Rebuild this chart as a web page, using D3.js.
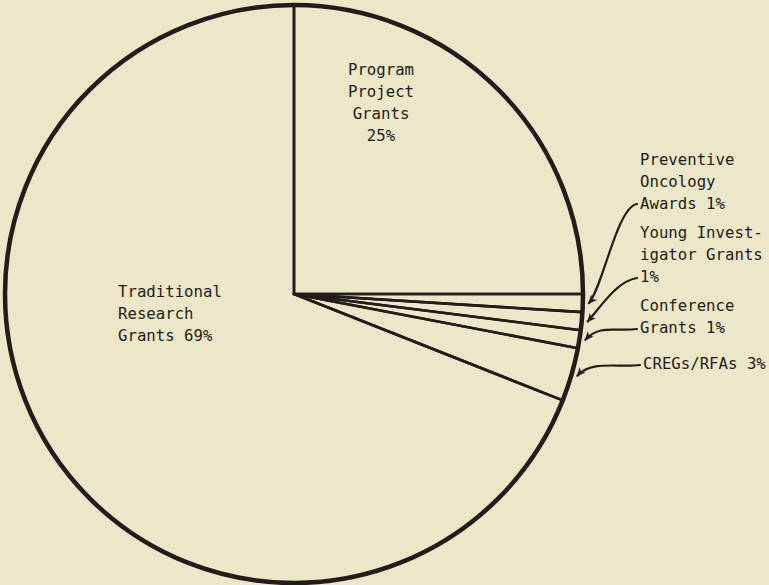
<!DOCTYPE html>
<html>
<head>
<meta charset="utf-8">
<script src="https://cdn.jsdelivr.net/npm/d3@7"></script>
<style>
  html, body { margin: 0; padding: 0; background: #ebe7c8; }
  svg { display: block; }
  text { font-family: "DejaVu Sans Mono", monospace; font-size: 15.7px; fill: #1f1b17; }
</style>
</head>
<body>
<div id="chart"></div>
<script>
// slices, clockwise from 12 o'clock
var categories = ["Program Project Grants", "Preventive Oncology Awards", "Young Investigator Grants",
                  "Conference Grants", "CREGs/RFAs", "Traditional Research Grants"];
var values = [25, 1, 1, 1, 3, 69];
var labelLines = [
  ["Program", "Project", "Grants", "25%"],
  ["Preventive", "Oncology", "Awards 1%"],
  ["Young Invest-", "igator Grants", "1%"],
  ["Conference", "Grants 1%"],
  ["CREGs/RFAs 3%"],
  ["Traditional", "Research", "Grants 69%"]
];

var width = 769, height = 585,
    cx = 294, cy = 294, radius = 289,
    line_h = 22,
    ink = "#221d18";

// where each label block sits, and where its arrow starts (null = no arrow)
var labelPos = [
  {x: 381, y: 75,  anchor: "middle", from: null},
  {x: 640, y: 165, anchor: "start",  from: [637, 204]},
  {x: 640, y: 238, anchor: "start",  from: [637, 278]},
  {x: 640, y: 311, anchor: "start",  from: [637, 329]},
  {x: 643, y: 369, anchor: "start",  from: [640, 365]},
  {x: 118, y: 297, anchor: "start",  from: null}
];

var svg = d3.select("#chart").append("svg")
  .attr("width", width)
  .attr("height", height);

svg.append("rect").attr("width", width).attr("height", height).attr("fill", "#ebe7c8");

svg.append("defs").append("marker")
  .attr("id", "head")
  .attr("viewBox", "0 -5 10 10")
  .attr("refX", 9).attr("refY", 0)
  .attr("markerWidth", 9).attr("markerHeight", 9)
  .attr("markerUnits", "userSpaceOnUse")
  .attr("orient", "auto")
  .append("path")
  .attr("d", "M0,-4.5L10,0L0,4.5L3,0Z")
  .attr("fill", ink);

var pie = d3.pie().sort(null).value(function (d) { return d; });
var arcs = pie(values);

var arc = d3.arc().innerRadius(0).outerRadius(radius);

var g = svg.append("g").attr("transform", "translate(" + cx + "," + cy + ")");

g.selectAll("path.slice")
  .data(arcs).enter().append("path")
  .attr("class", "slice")
  .attr("d", arc)
  .attr("fill", "none")
  .attr("stroke", ink)
  .attr("stroke-width", 2.6)
  .attr("stroke-linejoin", "round");

// heavier outer rim
g.append("circle")
  .attr("r", radius)
  .attr("fill", "none")
  .attr("stroke", ink)
  .attr("stroke-width", 4.5);

// curly arrows from the small labels to their slices
arcs.forEach(function (d, i) {
  var p = labelPos[i];
  if (!p.from) return;
  var a = (d.startAngle + d.endAngle) / 2,
      tx = cx + (radius + 4) * Math.sin(a),
      ty = cy - (radius + 4) * Math.cos(a),
      sx = p.from[0], sy = p.from[1],
      dir = ty > sy ? 1 : -1;
  var path = d3.path();
  path.moveTo(sx, sy);
  path.bezierCurveTo(sx - 20, sy + 3 * dir, tx + 16, ty - 16 * dir, tx + 2, ty);
  svg.append("path")
    .attr("d", path.toString())
    .attr("fill", "none")
    .attr("stroke", ink)
    .attr("stroke-width", 2.2)
    .attr("stroke-linecap", "round")
    .attr("marker-end", "url(#head)");
});

// label blocks
labelLines.forEach(function (lines, i) {
  var p = labelPos[i];
  svg.append("text")
    .attr("text-anchor", p.anchor)
    .selectAll("tspan")
    .data(lines).enter().append("tspan")
    .attr("x", p.x)
    .attr("y", function (d, j) { return p.y + j * line_h; })
    .text(function (d) { return d; });
});
</script>
</body>
</html>
